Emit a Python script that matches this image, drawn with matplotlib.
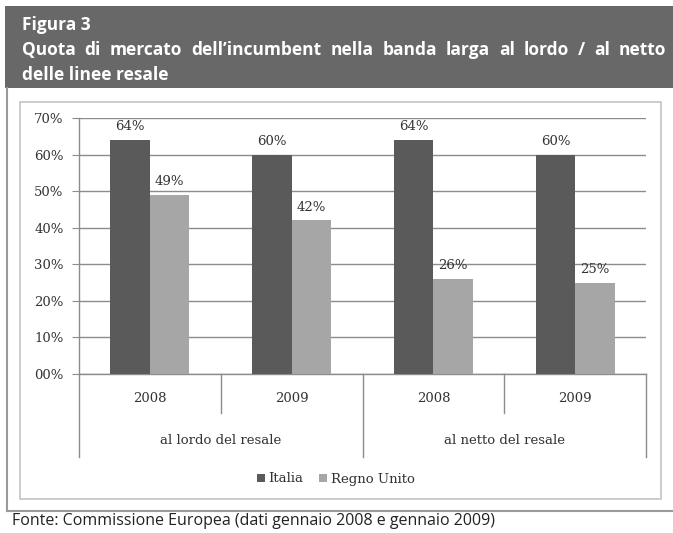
import matplotlib.pyplot as plt
from matplotlib.patches import Rectangle
from matplotlib.lines import Line2D

# Market share of the incumbent, gross / net of resale lines
years = ['2008', '2009', '2008', '2009']
groups = ['al lordo del resale', 'al netto del resale']
italia = [64, 60, 64, 60]
regno_unito = [49, 42, 26, 25]
y_ticks = [0, 10, 20, 30, 40, 50, 60, 70]

W, H = 673, 533
fig = plt.figure(figsize=(W / 100, H / 100), dpi=100)
fig.patch.set_facecolor('white')


def px(x, y):
    # pixel coordinates (top-left origin) to figure fraction
    return x / W, 1 - y / H


def justified(line, x_start, x_end, y, **kw):
    # spread the words of one line evenly between x_start and x_end
    words = line.split(' ')
    renderer = fig.canvas.get_renderer()
    texts = [fig.text(0, 0, w, **kw) for w in words]
    widths = [t.get_window_extent(renderer).width for t in texts]
    gap = (x_end - x_start - sum(widths)) / (len(words) - 1)
    x = x_start
    for t, w in zip(texts, widths):
        t.set_position(px(x, y))
        t.set_va('center')
        t.set_ha('left')
        x += w + gap


# header band
x0, y0 = px(5, 88)
fig.patches.append(Rectangle((x0, y0), 1 - x0, (88 - 6) / H,
                             transform=fig.transFigure, facecolor='#686868',
                             edgecolor='none', zorder=0))
head_font = dict(family='Open Sans', weight='bold', color='white', fontsize=12.5)
fig.text(*px(22, 25), 'Figura 3', va='center', ha='left', **head_font)
justified('Quota di mercato dell\u2019incumbent nella banda larga al lordo / al netto',
          22, 666, 50, **head_font)
fig.text(*px(22, 75), 'delle linee resale', va='center', ha='left', **head_font)

# outer frame and footer separator
fig.lines.append(Line2D([7 / W, 7 / W], [1 - 88 / H, 1 - 511 / H], transform=fig.transFigure,
                        color='#9a9a9a', lw=1.5))
fig.lines.append(Line2D([7 / W, 1], [1 - 511 / H, 1 - 511 / H], transform=fig.transFigure,
                        color='#9a9a9a', lw=1.5))
# inner chart box
bx, by = px(20, 499)
fig.patches.append(Rectangle((bx, by), (661 - 20) / W, (499 - 102) / H,
                             transform=fig.transFigure, facecolor='none',
                             edgecolor='#c4c4c4', lw=1.2))

fig.text(*px(12, 521), 'Fonte: Commissione Europea (dati gennaio 2008 e gennaio 2009)',
         va='center', ha='left', family='Open Sans', fontsize=11.5, color='#222222')

# plot area
left, top, right, bottom = 79, 118, 646, 374
ax = fig.add_axes([left / W, 1 - bottom / H, (right - left) / W, (bottom - top) / H])
ax.set_xlim(0, 4)
ax.set_ylim(0, 70)

serif = 'DejaVu Serif'
bar_w = 0.278
xs = [i + 0.5 for i in range(len(years))]
ax.bar([x - bar_w / 2 for x in xs], italia, width=bar_w, color='#5a5a5a', zorder=3,
       label='Italia')
ax.bar([x + bar_w / 2 for x in xs], regno_unito, width=bar_w, color='#a6a6a6', zorder=3,
       label='Regno Unito')

for x, v in zip(xs, italia):
    ax.text(x - bar_w / 2, v + 1.8, f'{v}%', ha='center', va='bottom', family=serif,
            fontsize=9.5, color='#333333', zorder=4)
for x, v in zip(xs, regno_unito):
    ax.text(x + bar_w / 2, v + 1.8, f'{v}%', ha='center', va='bottom', family=serif,
            fontsize=9.5, color='#333333', zorder=4)

ax.set_yticks(y_ticks)
ax.set_yticklabels([f'{t:02d}%' for t in y_ticks], family=serif, fontsize=9.5, color='#333333')
ax.grid(axis='y', color='#8c8c8c', lw=1.0, zorder=0)
ax.tick_params(axis='y', length=5, color='#8c8c8c', pad=6)
ax.set_xticks([])
for s in ['top', 'right']:
    ax.spines[s].set_visible(False)
for s in ['left', 'bottom']:
    ax.spines[s].set_color('#8c8c8c')
    ax.spines[s].set_linewidth(1.0)

# two-level category axis
trans = ax.get_xaxis_transform()
ah = bottom - top
for i in range(len(years) + 1):
    low = 457 if i % 2 == 0 else 413
    ax.plot([i, i], [0, -(low - bottom) / ah], transform=trans, color='#8c8c8c', lw=1.0,
            clip_on=False)
for x, yr in zip(xs, years):
    ax.text(x, -(398 - bottom) / ah, yr, transform=trans, ha='center', va='center',
            family=serif, fontsize=9.5, color='#333333')
for j, g in enumerate(groups):
    ax.text(2 * j + 1, -(440 - bottom) / ah, g, transform=trans, ha='center', va='center',
            family=serif, fontsize=9.5, color='#333333')

handles, labels = ax.get_legend_handles_labels()
fig.legend(handles, labels, loc='center', bbox_to_anchor=px(336, 479), ncol=2, frameon=False,
           prop={'family': serif, 'size': 9.5}, handlelength=0.6, handleheight=0.6,
           handletextpad=0.3, columnspacing=1.2, labelcolor='#333333')

fig.savefig('out.png', dpi=100)
